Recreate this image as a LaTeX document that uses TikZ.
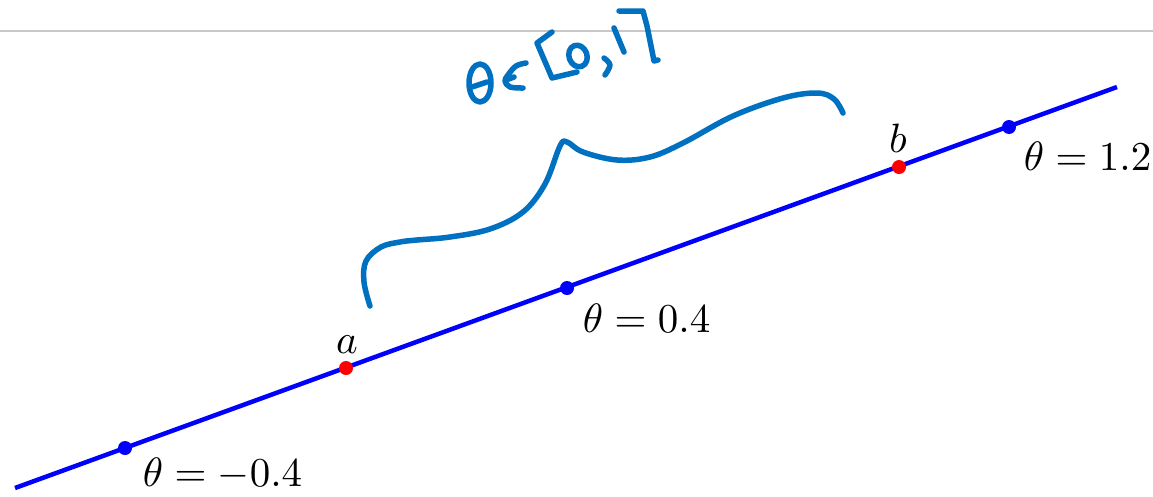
\documentclass[tikz,border=0pt]{standalone}
\usetikzlibrary{calc}
\definecolor{hand}{RGB}{0,112,192}
\definecolor{rule}{RGB}{200,200,200}
\begin{document}
\begin{tikzpicture}[x=1pt,y=-1pt,
  mainline/.style={draw=blue,line width=4.5pt},
  dotb/.style={circle,fill=blue,inner sep=0pt,minimum size=14pt},
  dotr/.style={circle,fill=red,inner sep=0pt,minimum size=14pt},
  lab/.style={inner sep=0pt,scale=4.1},
  ink/.style={draw=hand,line width=5.5pt,line cap=round,line join=round}]
\useasboundingbox (0,0) rectangle (1153,496);
\fill[white] (0,0) rectangle (1153,496);
% top rule
\coordinate (rl) at (0,31);
\coordinate (rr) at (1153,31);
\draw[rule,line width=1.2pt] (rl) -- (rr);
% main line
\coordinate (s) at (15,488);
\coordinate (e) at (1117,87);
\draw[mainline] (s) -- (e);
\node[dotb] (p1) at (125,448) {};
\node[dotr] (a) at (346,368) {};
\node[dotb] (p2) at (567,288) {};
\node[dotr] (b) at (899,167) {};
\node[dotb] (p3) at (1009,127) {};
% labels
\node[lab,anchor=base west] (l1) at (142,486) {$\theta=-0.4$};
\node[lab,anchor=base west] (l2) at (582,332) {$\theta=0.4$};
\node[lab,anchor=base west] (l3) at (1023,170) {$\theta=1.2$};
\node[lab,anchor=base] (la) at (347,353) {$a$};
\node[lab,anchor=base] (lb) at (898,152) {$b$};
% handwritten brace
\draw[ink] plot[smooth,tension=0.6] coordinates {(370,306) (364,282) (366,261) (381,247) (400,242) (417,240) (450,237) (490,229) (523,212) (545,184) (560,146) (567,142) (583,152) (617,160) (650,157) (683,143) (733,116) (783,98) (817,93) (834,99) (843,113)};
% theta
\draw[ink] (480,83) ellipse [x radius=11,y radius=19];
\draw[ink] (472,87) -- (487,82);
% element-of
\draw[ink] plot[smooth,tension=0.6] coordinates {(526,63) (516,66) (508,75) (505,81) (510,87) (523,88)};
\draw[ink] (506,80) -- (514,77);
% [
\draw[ink] (552,32) -- (537,43) -- (552,78) -- (577,72);
% 0
\draw[ink,rotate around={20:(578,56)}] (578,56) ellipse [x radius=9,y radius=11];
% ,
\draw[ink] plot[smooth,tension=0.6] coordinates {(604,58) (610,65) (605,75)};
% 1
\draw[ink] (614,28) -- (624,52);
% ]
\draw[ink] (619,11) -- (643,11) -- (647,26) -- (654,61) -- (658,60);
\end{tikzpicture}
\end{document}
